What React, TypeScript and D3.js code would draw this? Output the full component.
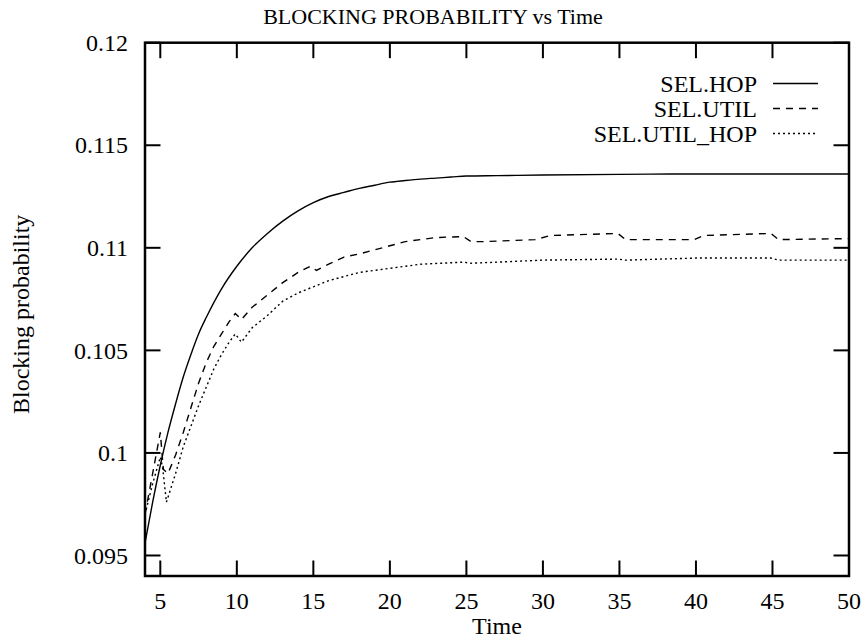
import React from "react";
import * as d3 from "d3";

const hopT = [4, 4.5, 5, 5.5, 6, 6.5, 7, 7.5, 8, 9, 10, 11, 12, 13, 14, 15, 16, 17, 18, 19, 20, 21, 22, 23, 24, 25, 27, 30, 35, 40, 45, 50];
const hopV = [0.0956, 0.0976, 0.0994, 0.1010, 0.1024, 0.1037, 0.1048, 0.1058, 0.1066, 0.1080, 0.1091, 0.1100, 0.1107, 0.1113, 0.1118, 0.1122, 0.1125, 0.1127, 0.1129, 0.11305, 0.1132, 0.11328, 0.11335, 0.1134, 0.11345, 0.1135, 0.11352, 0.11355, 0.11358, 0.1136, 0.1136, 0.1136];

const utilT = [4, 4.5, 5, 5.2, 5.5, 6, 6.5, 7, 7.5, 8, 8.5, 9, 9.5, 9.9, 10.3, 11, 12, 13, 14, 14.8, 15.2, 16, 17, 18, 19, 20, 21, 22, 23, 24.8, 25.3, 26, 29.5, 30.5, 34.9, 35.4, 39.9, 40.5, 44.9, 45.4, 50];
const utilV = [0.0970, 0.0990, 0.1010, 0.0992, 0.0990, 0.0999, 0.1010, 0.1022, 0.1034, 0.1044, 0.1052, 0.1058, 0.1064, 0.1068, 0.1065, 0.1071, 0.1077, 0.1083, 0.1088, 0.1091, 0.1089, 0.1092, 0.10955, 0.1097, 0.1099, 0.1101, 0.1103, 0.1104, 0.1105, 0.11055, 0.1103, 0.1103, 0.1104, 0.1106, 0.1107, 0.1104, 0.1104, 0.1106, 0.1107, 0.1104, 0.11045];

const uhT = [4, 4.5, 5, 5.15, 5.4, 6, 6.5, 7, 7.5, 8, 8.5, 9, 9.5, 9.9, 10.3, 11, 12, 13, 14, 15, 16, 17, 18, 19, 20, 22, 24.8, 25.3, 27, 30, 34.9, 35.4, 40, 44.9, 45.4, 50];
const uhV = [0.0970, 0.0985, 0.0998, 0.0993, 0.0976, 0.0990, 0.1003, 0.1013, 0.1023, 0.1032, 0.1041, 0.1048, 0.1054, 0.1058, 0.1054, 0.1061, 0.1067, 0.1074, 0.1078, 0.1081, 0.1084, 0.1086, 0.1088, 0.1089, 0.1090, 0.1092, 0.1093, 0.10925, 0.1093, 0.1094, 0.10945, 0.1094, 0.1095, 0.1095, 0.1094, 0.1094];

const xTicks = [5, 10, 15, 20, 25, 30, 35, 40, 45, 50];
const yTicks = [0.095, 0.1, 0.105, 0.11, 0.115, 0.12];
const yTickLabels = ["0.095", "0.1", "0.105", "0.11", "0.115", "0.12"];

const seriesNames = ["SEL.HOP", "SEL.UTIL", "SEL.UTIL_HOP"];
const dashes = ["none", "7,6", "2,3"];

export default function App() {
  const W = 866, H = 641;
  const L = 145, R = 849, T = 42.7, B = 576;
  const x = d3.scaleLinear().domain([4, 50]).range([L, R]);
  const y = d3.scaleLinear().domain([0.094, 0.12]).range([B, T]);
  const smooth = d3.line<[number, number]>().x(d => x(d[0])).y(d => y(d[1])).curve(d3.curveMonotoneX);
  const line = d3.line<[number, number]>().x(d => x(d[0])).y(d => y(d[1]));
  const series = [
    hopT.map((t, i) => [t, hopV[i]] as [number, number]),
    utilT.map((t, i) => [t, utilV[i]] as [number, number]),
    uhT.map((t, i) => [t, uhV[i]] as [number, number]),
  ];
  const font = '"Liberation Serif", "Times New Roman", Times, serif';
  const tl = 15.5;
  const fs = 24;
  return (
    <svg width={W} height={H} style={{ position: "absolute", left: 0, top: 0, background: "#fff", fontFamily: font }}>
      <rect width={W} height={H} fill="#fff" />
      <text x={433} y={24} textAnchor="middle" fontSize={22}>BLOCKING PROBABILITY vs Time</text>
      {series.map((s, i) => (
        <path key={i} d={(i === 0 ? smooth(s) : line(s)) || ""} fill="none" stroke="#000" strokeWidth={1.4} strokeDasharray={dashes[i]} />
      ))}
      {xTicks.map(t => (
        <g key={"x" + t}>
          <line x1={x(t)} x2={x(t)} y1={B} y2={B - tl} stroke="#000" strokeWidth={2} />
          <line x1={x(t)} x2={x(t)} y1={T} y2={T + tl} stroke="#000" strokeWidth={2} />
          <text x={x(t)} y={609} textAnchor="middle" fontSize={fs}>{t}</text>
        </g>
      ))}
      {yTicks.map((t, i) => (
        <g key={"y" + t}>
          <line x1={L} x2={L + tl} y1={y(t)} y2={y(t)} stroke="#000" strokeWidth={2} />
          <line x1={R} x2={R - tl} y1={y(t)} y2={y(t)} stroke="#000" strokeWidth={2} />
          <text x={128} y={y(t)} dy="0.34em" textAnchor="end" fontSize={fs}>{yTickLabels[i]}</text>
        </g>
      ))}
      <rect x={L} y={T} width={R - L} height={B - T} fill="none" stroke="#000" strokeWidth={2.5} />
      <text x={497} y={634} textAnchor="middle" fontSize={fs}>Time</text>
      <text transform={`translate(28.5,${(T + B) / 2 + 5}) rotate(-90)`} textAnchor="middle" fontSize={fs}>Blocking probability</text>
      {seriesNames.map((n, i) => (
        <g key={n}>
          <text x={757} y={91.7 + i * 25} textAnchor="end" fontSize={fs}>{n}</text>
          <line x1={773} x2={818} y1={83.5 + i * 25} y2={83.5 + i * 25} stroke="#000" strokeWidth={1.4} strokeDasharray={dashes[i]} />
        </g>
      ))}
    </svg>
  );
}
